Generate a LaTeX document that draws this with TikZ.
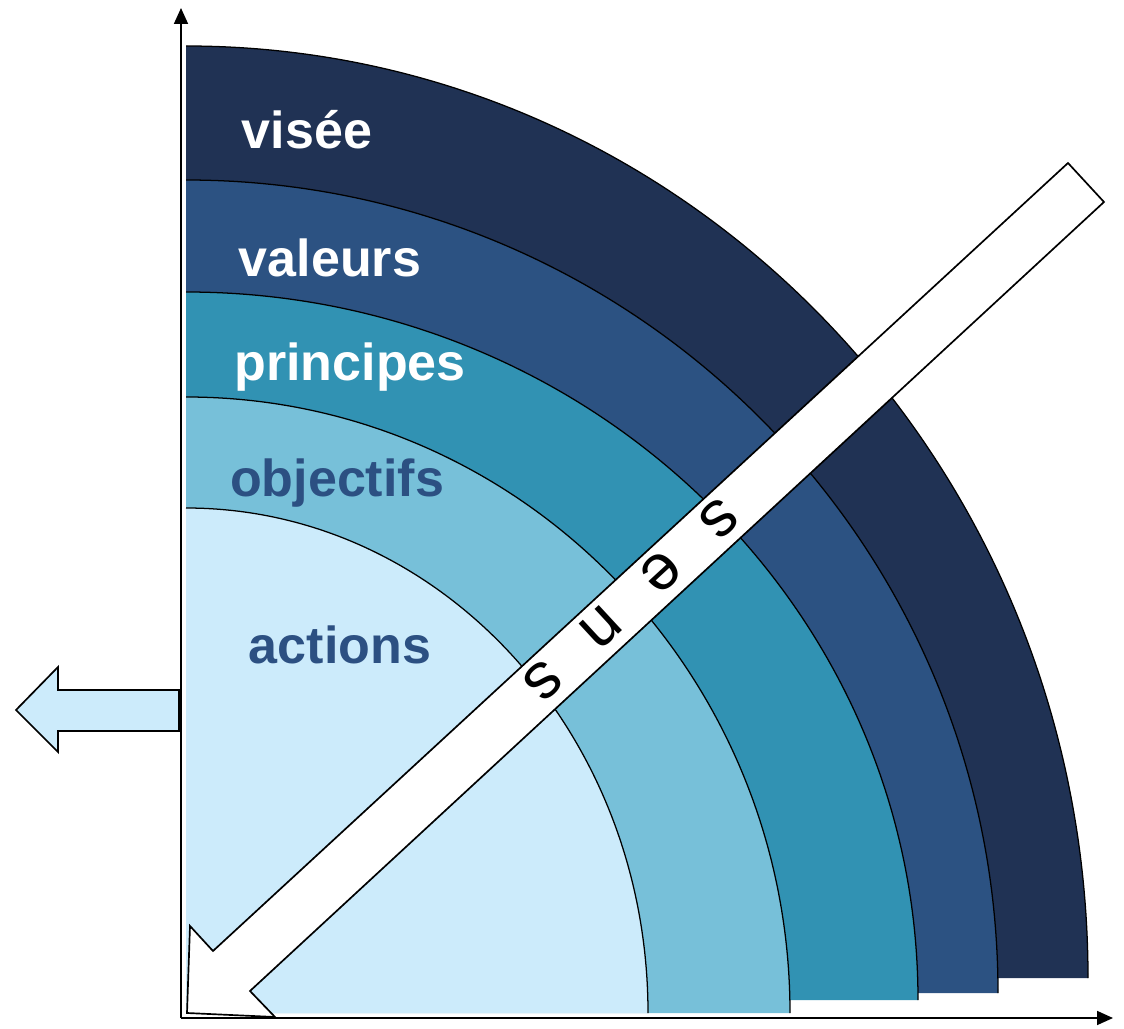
\documentclass[tikz,border=0pt]{standalone}
\usepackage{fontspec}
\setmainfont{Liberation Sans}
\usetikzlibrary{positioning, arrows.meta}
\definecolor{viseec}{RGB}{32,50,84}
\definecolor{valeursc}{RGB}{44,82,130}
\definecolor{principesc}{RGB}{49,146,179}
\definecolor{objectifsc}{RGB}{119,192,217}
\definecolor{actionsc}{RGB}{204,235,251}
\definecolor{labelc}{RGB}{44,80,130}
\begin{document}
\begin{tikzpicture}[x=0.025cm, y=-0.025cm]
	\tikzset{
		edge/.style={black, line width=0.9pt},
		axis/.style={black, line width=1.2pt, -{Triangle[length=0.4cm, width=0.35cm]}},
		layer/.style={font=\fontsize{37}{40}\selectfont\bfseries},
		sensarrow/.style={draw=black, fill=white, line width=1.2pt, line join=miter}
	}
	\useasboundingbox (0,0) rectangle (1124,1029);
	% bands, outermost first
	\foreach \top/\rx/\ry/\bot/\col in {46/902/932/978/viseec, 180/812/813/993/valeursc, 292/732/708/1000/principesc, 397/604/616/1013/objectifsc, 508/462/505/1013/actionsc} {
		\fill[\col] (186,\bot) -- (186,\top) arc[start angle=-90, end angle=0, x radius=\rx, y radius=\ry] -- cycle;
		\draw[edge] (186,\top) arc[start angle=-90, end angle=0, x radius=\rx, y radius=\ry];
	}
	% axes
	\coordinate (origin) at (181,1018);
	\coordinate (ytop) at (181,8);
	\coordinate (xend) at (1113,1018);
	\draw[axis] (origin) -- (ytop);
	\draw[axis] (origin) -- (xend);
	% big arrow
	\draw[sensarrow] (1068,163) -- (1104,202) -- (250,991) -- (275,1017) -- (187,1013) -- (190,926) -- (213,951) -- cycle;
	\node[rotate=222.7, font=\fontsize{46}{48}\selectfont] (sens) at (631,600) {s\hspace{0.7em}e\hspace{0.7em}n\hspace{0.7em}s};
	% left arrow
	\draw[black, line width=1.2pt, fill=actionsc] (179,690) -- (58,690) -- (58,667) -- (16,710) -- (58,752) -- (58,731) -- (179,731) -- cycle;
	% labels
	\node[layer, white] (visee) at (307,130) {visée};
	\node[layer, white] (valeurs) at (330,258) {valeurs};
	\node[layer, white] (principes) at (350,367) {principes};
	\node[layer, labelc] (objectifs) at (337,483) {objectifs};
	\node[layer, labelc] (actions) at (340,645) {actions};
\end{tikzpicture}
\end{document}
